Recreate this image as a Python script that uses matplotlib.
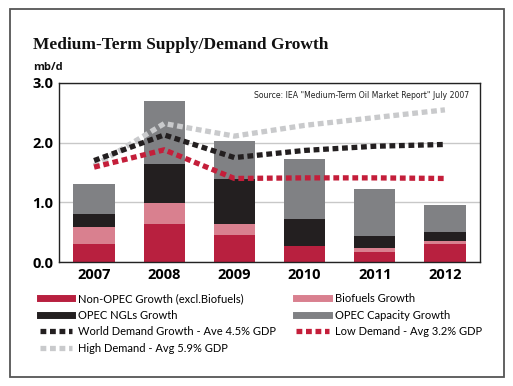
import matplotlib
matplotlib.use("Agg")
import matplotlib.pyplot as plt
from matplotlib.lines import Line2D
from matplotlib.patches import Rectangle
import numpy as np

years = ["2007", "2008", "2009", "2010", "2011", "2012"]

# stacked supply growth components (mb/d)
non_opec = [0.31, 0.64, 0.45, 0.27, 0.17, 0.30]
biofuels = [0.28, 0.35, 0.19, 0.00, 0.06, 0.05]
opec_ngl = [0.21, 0.66, 0.75, 0.45, 0.21, 0.15]
opec_cap = [0.50, 1.05, 0.64, 1.01, 0.79, 0.45]

# demand growth scenarios (mb/d)
world_demand = [1.70, 2.13, 1.75, 1.87, 1.94, 1.97]
low_demand = [1.59, 1.88, 1.40, 1.41, 1.41, 1.40]
high_demand = [1.61, 2.32, 2.11, 2.29, 2.42, 2.55]

c_red = "#b8203f"
c_pink = "#d9808f"
c_black = "#231f20"
c_gray = "#808184"
c_light = "#c9cacc"
c_redline = "#c41e3a"

fig = plt.figure(figsize=(5.13, 3.86), dpi=100)
ax = fig.add_axes([59/513, 1-262/386, 421/513, 179/386])

x = np.arange(len(years))
w = 0.59
b1 = np.array(non_opec)
b2 = b1 + np.array(biofuels)
b3 = b2 + np.array(opec_ngl)
ax.bar(x, non_opec, w, color=c_red, zorder=2)
ax.bar(x, biofuels, w, bottom=b1, color=c_pink, zorder=2)
ax.bar(x, opec_ngl, w, bottom=b2, color=c_black, zorder=2)
ax.bar(x, opec_cap, w, bottom=b3, color=c_gray, zorder=2)

dash = (0, (1.1, 0.7))
lw = 3.8
ax.plot(x, high_demand, color=c_light, lw=lw, ls=dash, zorder=3)
ax.plot(x, world_demand, color=c_black, lw=lw, ls=dash, zorder=4)
ax.plot(x, low_demand, color=c_redline, lw=lw, ls=dash, zorder=5)

ax.set_xlim(-0.5, 5.5)
ax.set_ylim(0, 3.0)
ax.set_yticks([0, 1, 2, 3])
ax.set_yticklabels(["0.0", "1.0", "2.0", "3.0"])
ax.set_xticks(x)
ax.set_xticklabels(years)
ax.tick_params(length=0, pad=4)
for lab in ax.get_xticklabels() + ax.get_yticklabels():
    lab.set_fontfamily("Open Sans")
    lab.set_fontweight("bold")
    lab.set_fontsize(10.5)
ax.yaxis.grid(True, color="#c8c8c8", lw=1, zorder=0)
ax.set_axisbelow(True)
for s in ax.spines.values():
    s.set_linewidth(1.0)
    s.set_color("#222222")

ax.text(0.975, 0.93, 'Source: IEA "Medium-Term Oil Market Report" July 2007',
        transform=ax.transAxes, ha="right", va="center", fontsize=5.6,
        family="Liberation Sans Narrow", color="#222222")

fig.text(33/513, 1-45/386, "Medium-Term Supply/Demand Growth", family="Liberation Serif",
         fontweight="bold", fontsize=12.5, va="center", ha="left", color="#111111")
fig.text(33/513, 1-67/386, "mb/d", family="Open Sans", fontweight="bold",
         fontsize=8, va="center", ha="left", color="#111111")

# outer frame
fig.patches.append(Rectangle((10/513, 1-377/386), 494/513, 368/386, transform=fig.transFigure,
                             fill=False, ec="#555555", lw=1.3))

handles = [
    Line2D([], [], color=c_red, lw=5),
    Line2D([], [], color=c_black, lw=5),
    Line2D([], [], color=c_black, lw=lw, ls=dash),
    Line2D([], [], color=c_light, lw=lw, ls=dash),
    Line2D([], [], color=c_pink, lw=5),
    Line2D([], [], color=c_gray, lw=5),
    Line2D([], [], color=c_redline, lw=lw, ls=dash),
]
labels = [
    "Non-OPEC Growth (excl.Biofuels)",
    "OPEC NGLs Growth",
    "World Demand Growth - Ave 4.5% GDP",
    "High Demand - Avg 5.9% GDP",
    "Biofuels Growth",
    "OPEC Capacity Growth",
    "Low Demand - Avg 3.2% GDP",
]
fig.legend(handles, labels, ncol=2, loc="upper left", bbox_to_anchor=(40/513, 1-293/386),
           frameon=False, borderpad=0, borderaxespad=0, handlelength=2.9, handletextpad=0.55,
           columnspacing=1.8, labelspacing=0.5, prop={"family": "Lato", "size": 8.0})

fig.savefig("out.png", dpi=100)
